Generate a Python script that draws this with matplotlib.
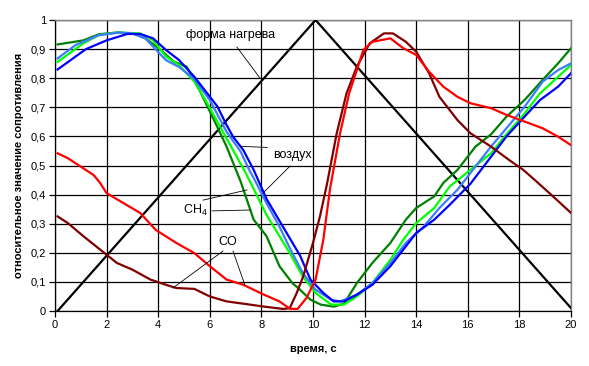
import matplotlib
matplotlib.use("Agg")
import matplotlib.pyplot as plt

plt.rcParams['font.family'] = ['Liberation Sans', 'DejaVu Sans']
plt.rcParams['mathtext.default'] = 'regular'

# heating shape (triangle)
t_heat = [0.1, 10.1, 20.0]
r_heat = [0.0, 1.0, 0.01]

# air (dark blue)
t_blue = [0.1, 1.2, 2.0, 2.8, 3.3, 3.8, 4.3, 4.8, 5.4, 5.9, 6.3, 6.65, 6.9, 7.3, 7.7, 8.2, 9.1, 9.5, 9.9,
          10.4, 10.8, 11.2, 11.7, 12.3, 13.0, 13.5, 14.0, 14.7, 15.3, 16.1, 16.9, 17.5, 18.2, 18.8, 19.5, 20.0]
r_blue = [0.83, 0.90, 0.93, 0.952, 0.952, 0.937, 0.897, 0.863, 0.805, 0.748, 0.702, 0.639, 0.599, 0.553, 0.485,
          0.385, 0.25, 0.19, 0.108, 0.062, 0.033, 0.033, 0.056, 0.09, 0.154, 0.211, 0.268, 0.314, 0.365, 0.437,
          0.53, 0.60, 0.668, 0.725, 0.771, 0.817]

# light blue
t_lblue = [0.1, 0.8, 1.7, 2.5, 3.0, 3.5, 4.0, 4.3, 4.8, 5.4, 6.0, 6.65, 7.2, 7.5, 7.8, 8.2, 8.7, 9.1, 9.6,
           10.1, 10.7, 11.05, 11.7, 12.3, 13.0, 13.6, 14.3, 14.9, 15.6, 16.9, 18.2, 18.9, 19.5, 20.0]
r_lblue = [0.868, 0.914, 0.948, 0.957, 0.954, 0.937, 0.89, 0.862, 0.839, 0.797, 0.725, 0.616, 0.547, 0.49,
           0.44, 0.37, 0.29, 0.216, 0.131, 0.073, 0.039, 0.033, 0.056, 0.096, 0.165, 0.234, 0.291, 0.354, 0.417,
           0.565, 0.702, 0.788, 0.828, 0.851]

# bright green
t_lime = [0.1, 1.1, 1.7, 2.4, 3.3, 3.8, 4.3, 4.8, 5.4, 5.9, 6.4, 6.9, 7.4, 8.2, 9.1, 9.6, 10.1, 10.7, 11.2,
          11.7, 12.3, 13.0, 13.5, 14.0, 14.7, 15.3, 16.9, 17.5, 18.2, 18.8, 19.5, 20.0]
r_lime = [0.856, 0.92, 0.948, 0.957, 0.954, 0.931, 0.874, 0.846, 0.788, 0.714, 0.633, 0.553, 0.473, 0.33,
          0.199, 0.119, 0.062, 0.022, 0.022, 0.05, 0.096, 0.176, 0.245, 0.302, 0.354, 0.428, 0.542, 0.607,
          0.679, 0.748, 0.805, 0.845]

# dark green
t_dgreen = [0.1, 1.1, 1.7, 2.4, 3.0, 3.5, 4.1, 4.6, 5.1, 5.6, 6.1, 6.65, 7.2, 7.7, 8.2, 8.7, 9.2, 9.5, 9.9,
            10.3, 10.8, 11.2, 11.7, 12.3, 13.0, 13.6, 14.0, 14.7, 15.05, 15.6, 16.3, 16.9, 17.5, 18.2, 18.9,
            19.5, 20.0]
r_dgreen = [0.916, 0.93, 0.951, 0.957, 0.954, 0.937, 0.897, 0.857, 0.84, 0.759, 0.668, 0.565, 0.444, 0.314,
            0.257, 0.154, 0.096, 0.073, 0.039, 0.022, 0.015, 0.025, 0.096, 0.165, 0.234, 0.314, 0.354, 0.394,
            0.44, 0.485, 0.565, 0.607, 0.668, 0.725, 0.794, 0.851, 0.903]

# CO (red)
t_red = [0.1, 0.5, 1.0, 1.5, 1.75, 2.0, 2.65, 3.3, 3.9, 4.7, 5.4, 6.0, 6.65, 7.3, 8.1, 8.7, 9.1, 9.4, 9.75,
         10.1, 10.4, 10.66, 11.05, 11.4, 11.7, 11.95, 12.3, 13.0, 13.5, 14.0, 14.5, 15.05, 15.6, 16.1, 16.9,
         17.5, 18.2, 18.9, 19.5, 20.0]
r_red = [0.542, 0.525, 0.496, 0.467, 0.44, 0.405, 0.371, 0.337, 0.279, 0.234, 0.199, 0.154, 0.108, 0.09,
         0.056, 0.033, 0.008, 0.007, 0.045, 0.108, 0.245, 0.42, 0.611, 0.748, 0.828, 0.897, 0.925, 0.937, 0.903,
         0.88, 0.822, 0.771, 0.736, 0.714, 0.697, 0.674, 0.651, 0.628, 0.599, 0.57]

# CO (dark red)
t_dred = [0.1, 0.5, 1.1, 1.75, 2.4, 3.0, 3.7, 4.3, 4.7, 5.4, 6.0, 6.65, 7.55, 8.2, 8.85, 9.1, 9.37, 9.62,
          10.0, 10.27, 10.55, 10.92, 11.3, 11.7, 12.2, 12.75, 13.1, 13.6, 14.0, 14.5, 14.9, 15.6, 16.1, 16.9,
          17.6, 18.15, 18.7, 19.45, 20.0]
r_dred = [0.325, 0.302, 0.257, 0.211, 0.165, 0.142, 0.108, 0.09, 0.079, 0.076, 0.05, 0.033, 0.022, 0.014,
          0.007, 0.01, 0.062, 0.119, 0.234, 0.325, 0.44, 0.611, 0.748, 0.84, 0.92, 0.954, 0.954, 0.925, 0.891,
          0.817, 0.736, 0.656, 0.611, 0.565, 0.519, 0.485, 0.442, 0.382, 0.337]

x_ticks = [0, 2, 4, 6, 8, 10, 12, 14, 16, 18, 20]
y_ticks = [0, 0.1, 0.2, 0.3, 0.4, 0.5, 0.6, 0.7, 0.8, 0.9, 1.0]
y_tick_labels = ['0', '0,1', '0,2', '0,3', '0,4', '0,5', '0,6', '0,7', '0,8', '0,9', '1']

fig = plt.figure(figsize=(5.89, 3.66), dpi=100)
ax = fig.add_axes([55/589, 1 - 311/366, (571 - 55)/589, (311 - 20)/366])

lw = 1.6
ax.plot(t_heat, r_heat, color='black', lw=lw, zorder=3)
ax.plot(t_dgreen, r_dgreen, color='#008000', lw=lw, zorder=3)
ax.plot(t_lime, r_lime, color='#00FF00', lw=lw, zorder=3)
ax.plot(t_lblue, r_lblue, color='#3C7DFF', lw=lw, zorder=3)
ax.plot(t_blue, r_blue, color='#0000FF', lw=lw, zorder=3)
ax.plot(t_dred, r_dred, color='#800000', lw=lw, zorder=3)
ax.plot(t_red, r_red, color='#FF0000', lw=lw, zorder=3)

ax.set_xlim(0, 20)
ax.set_ylim(0, 1)
ax.set_xticks(x_ticks)
ax.set_xticklabels([str(v) for v in x_ticks])
ax.set_yticks(y_ticks)
ax.set_yticklabels(y_tick_labels)
ax.grid(True, color='black', lw=0.9, zorder=1)
ax.tick_params(direction='out', length=4, width=0.9, labelsize=8, pad=2.5, color='black')
for s in ['left', 'bottom']:
    ax.spines[s].set_color('black')
    ax.spines[s].set_linewidth(0.9)
for s in ['top', 'right']:
    ax.spines[s].set_color('#808080')
    ax.spines[s].set_linewidth(1.0)

ax.set_xlabel('время, с', fontsize=8, fontweight='bold', labelpad=10)
ax.set_ylabel('относительное значение сопротивления', fontsize=8, fontweight='bold', labelpad=4.5)

# annotations
lk = dict(color='black', lw=0.6, zorder=4)
ax.text(6.82, 0.948, 'форма нагрева', fontsize=9, ha='center', va='center')
ax.plot([7.05, 7.95], [0.907, 0.80], **lk)

ax.text(9.19, 0.536, 'воздух', fontsize=9, ha='center', va='center')
ax.plot([7.17, 8.22], [0.566, 0.562], **lk)
ax.plot([9.11, 8.06], [0.498, 0.405], **lk)

ax.text(5.43, 0.344, 'CH$_{4}$', fontsize=9, ha='center', va='center')
ax.plot([5.74, 7.44], [0.381, 0.416], **lk)
ax.plot([6.09, 7.56], [0.344, 0.347], **lk)

ax.text(6.71, 0.237, 'CO', fontsize=9, ha='center', va='center')
ax.plot([6.51, 4.57], [0.206, 0.079], **lk)
ax.plot([6.90, 7.36], [0.206, 0.089], **lk)

fig.savefig('out.png', dpi=100)
